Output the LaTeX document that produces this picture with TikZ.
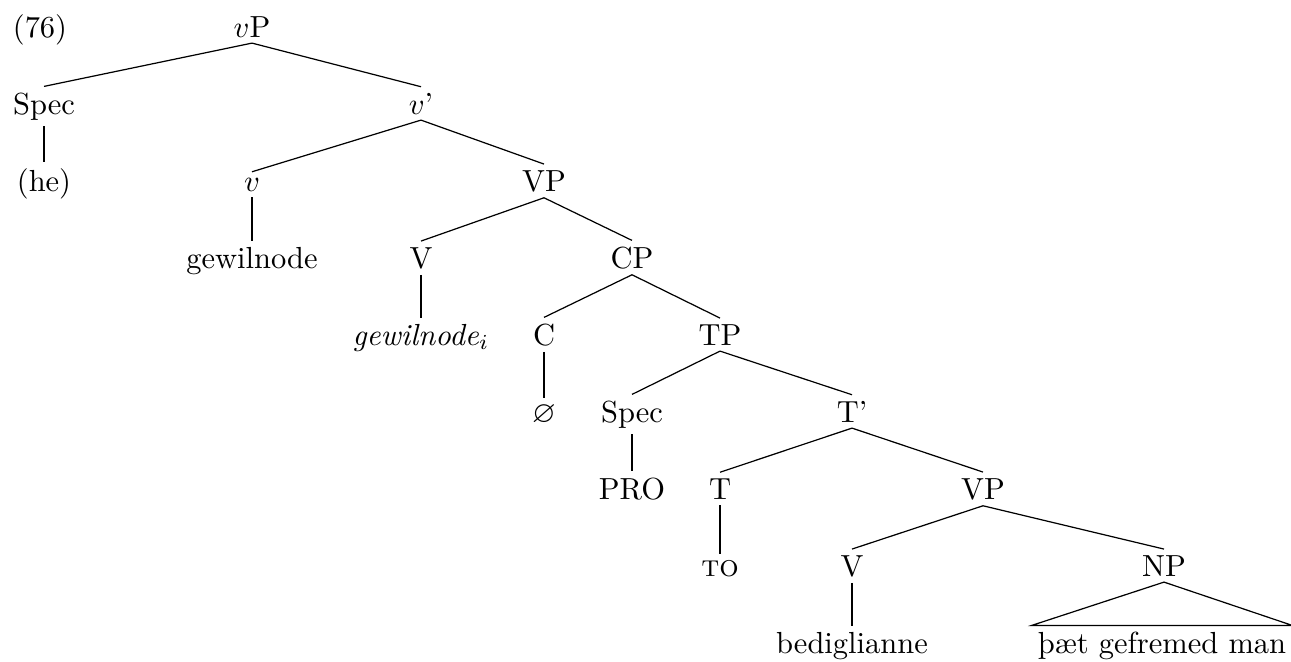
\documentclass[tikz,border=0pt]{standalone}
\usepackage{amssymb}
\usepackage{tikz}
\tikzset{
    cat/.style={inner sep=2pt, outer sep=0pt, anchor=base},
    branch/.style={line width=0.4pt, color=black}
}
\begin{document}
\begin{tikzpicture}[x=0.3279pt, y=-0.3279pt]
    \useasboundingbox (0,0) rectangle (1291,661);
    \node (ex) [cat] at (40,37) {(76)};
    \node (vp) [cat] at (252,37) {$v$P};
    \node (spec1) [cat] at (44,114) {Spec};
    \node (vbar) [cat] at (421,114) {$v$'};
    \node (he) [cat] at (44,191) {(he)};
    \node (vhead) [cat] at (252,191) {$v$};
    \node (vp1) [cat] at (544,191) {VP};
    \node (gew) [cat] at (252,268) {gewilnode};
    \node (v1) [cat] at (421,268) {V};
    \node (cp) [cat] at (632,268) {CP};
    \node (gewi) [cat] at (421,345) {\textit{gewilnode}$_i$};
    \node (c) [cat] at (544,345) {C};
    \node (tp) [cat] at (720,345) {TP};
    \node (null) [cat] at (544,422) {$\varnothing$};
    \node (spec2) [cat] at (632,422) {Spec};
    \node (tbar) [cat] at (852,422) {T'};
    \node (pro) [cat] at (632,499) {PRO};
    \node (t) [cat] at (720,499) {T};
    \node (vp2) [cat] at (983,499) {VP};
    \node (to) [cat] at (720,576) {\textsc{to}};
    \node (v2) [cat] at (852,576) {V};
    \node (np) [cat] at (1164,576) {NP};
    \node (bed) [cat] at (852,653) {bediglianne};
    \node (obj) [cat] at (1162,653) {þæt gefremed man};

    \draw [branch] (vp.south) -- (spec1.north);
    \draw [branch] (vp.south) -- (vbar.north);
    \draw [branch] (spec1.south) -- (he.north);
    \draw [branch] (vbar.south) -- (vhead.north);
    \draw [branch] (vbar.south) -- (vp1.north);
    \draw [branch] (vhead.south) -- (gew.north);
    \draw [branch] (vp1.south) -- (v1.north);
    \draw [branch] (vp1.south) -- (cp.north);
    \draw [branch] (v1.south) -- (gewi.north);
    \draw [branch] (cp.south) -- (c.north);
    \draw [branch] (cp.south) -- (tp.north);
    \draw [branch] (c.south) -- (null.north);
    \draw [branch] (tp.south) -- (spec2.north);
    \draw [branch] (tp.south) -- (tbar.north);
    \draw [branch] (spec2.south) -- (pro.north);
    \draw [branch] (tbar.south) -- (t.north);
    \draw [branch] (tbar.south) -- (vp2.north);
    \draw [branch] (t.south) -- (to.north);
    \draw [branch] (vp2.south) -- (v2.north);
    \draw [branch] (vp2.south) -- (np.north);
    \draw [branch] (v2.south) -- (bed.north);
    \draw [branch] (np.south) -- (obj.north west) -- (obj.north east) -- cycle;
\end{tikzpicture}
\end{document}
